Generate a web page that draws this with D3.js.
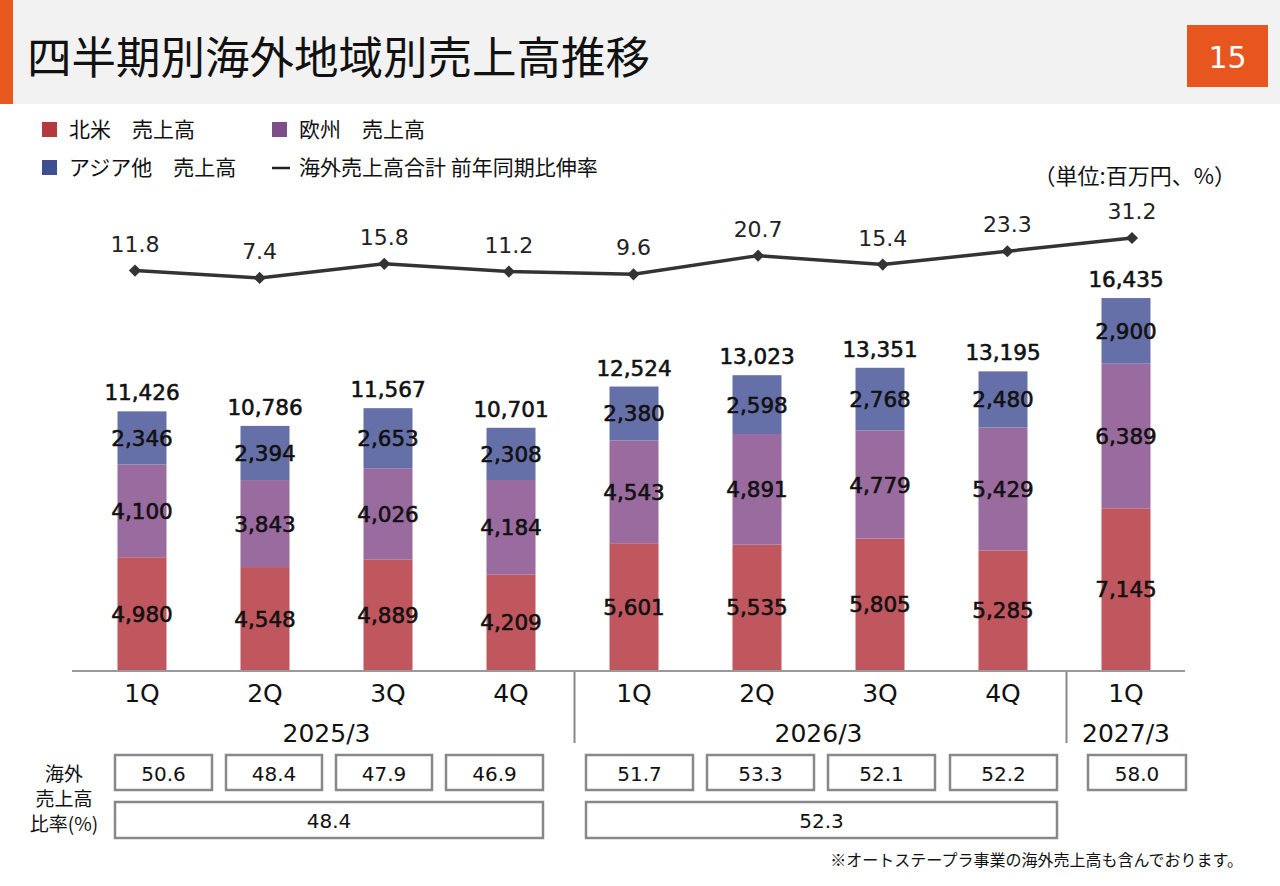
<!DOCTYPE html>
<html><head><meta charset="utf-8">
<script src="https://cdn.jsdelivr.net/npm/d3@7"></script>
<style>
html,body{margin:0;padding:0;background:#fff;}
svg{display:block;font-family:"Noto Sans CJK JP","Noto Sans",sans-serif;}
.num{font-family:"DejaVu Sans","Noto Sans",sans-serif;}
</style></head>
<body>
<svg id="c" width="1280" height="886"></svg>
<script>
const quarters = ["1Q","2Q","3Q","4Q","1Q","2Q","3Q","4Q","1Q"];
const northAmerica = [4980,4548,4889,4209,5601,5535,5805,5285,7145];
const europe = [4100,3843,4026,4184,4543,4891,4779,5429,6389];
const asiaOther = [2346,2394,2653,2308,2380,2598,2768,2480,2900];
const totals = [11426,10786,11567,10701,12524,13023,13351,13195,16435];
const growth = [11.8,7.4,15.8,11.2,9.6,20.7,15.4,23.3,31.2];
const ratioQ = [50.6,48.4,47.9,46.9,51.7,53.3,52.1,52.2,58.0];
const fiscalYears = ["2025/3","2026/3","2027/3"];
const yearGroups = [[0,3],[4,7],[8,8]];
const ratioYear = [48.4,52.3];
const seriesNames = ["北米　売上高","欧州　売上高","アジア他　売上高","海外売上高合計 前年同期比伸率"];

const svg = d3.select("#c");
// header
svg.append("rect").attr("x",0).attr("y",0).attr("width",1280).attr("height",104).attr("fill","#f2f2f2");
svg.append("rect").attr("x",0).attr("y",0).attr("width",13).attr("height",104).attr("fill","#e8581f");
svg.append("text").attr("x",27).attr("y",74).attr("font-size",44.5).attr("fill","#111").text("四半期別海外地域別売上高推移");
svg.append("rect").attr("x",1187).attr("y",25).attr("width",81).attr("height",62).attr("fill","#e6561e");
svg.append("text").attr("class","num").attr("x",1227.5).attr("y",67.5).attr("text-anchor","middle").attr("font-size",30).attr("fill","#fff").text("15");

// legend
const legCol = ["#b3383f","#7d4f88","#3f4e8e"];
const legPos = [[42,130],[272,130],[42,168]];
legPos.forEach((p,i)=>{
  svg.append("rect").attr("x",p[0]).attr("y",p[1]-8).attr("width",15).attr("height",15).attr("fill",legCol[i]);
  svg.append("text").attr("x",p[0]+27).attr("y",p[1]+7).attr("font-size",21).attr("fill","#111").text(seriesNames[i]);
});
svg.append("line").attr("x1",272).attr("x2",290).attr("y1",168).attr("y2",168).attr("stroke","#222").attr("stroke-width",2.5);
svg.append("text").attr("x",299).attr("y",175).attr("font-size",21).attr("fill","#111").text(seriesNames[3]);
svg.append("text").attr("x",1236).attr("y",184).attr("text-anchor","end").attr("font-size",22).attr("fill","#111").text("（単位:百万円、%）");

// scales
const idx = d3.range(quarters.length);
const x = d3.scalePoint().domain(idx).range([80.5,1187.5]).padding(0.5);
const xl = d3.scalePoint().domain(idx).range([135,1132]);
const baseY = 670;
const y = d3.scaleLinear().domain([0,16435]).range([baseY,298]);
const yl = d3.scaleLinear().domain([0,31.2]).range([290.4,238]);
const bw = 49;
const fmt = d3.format(",");

const stackData = idx.map(i=>({i, na:northAmerica[i], eu:europe[i], as:asiaOther[i]}));
const stack = d3.stack().keys(["na","eu","as"])(stackData);
const segCol = ["#c0575f","#9a6b9e","#6670a8"];
stack.forEach((layer,k)=>{
  const g = svg.append("g");
  g.selectAll("rect").data(layer).join("rect")
    .attr("x",d=>x(d.data.i)-bw/2).attr("width",bw)
    .attr("y",d=>y(d[1])).attr("height",d=>y(d[0])-y(d[1]))
    .attr("fill",segCol[k]);
  g.selectAll("text").data(layer).join("text").attr("class","num")
    .attr("x",d=>x(d.data.i)).attr("y",d=>(y(d[0])+y(d[1]))/2+8)
    .attr("text-anchor","middle").attr("font-size",21.5).attr("fill","#111")
    .attr("stroke","#111").attr("stroke-width",0.6)
    .text(d=>fmt(d[1]-d[0]));
});
svg.append("g").selectAll("text").data(idx).join("text").attr("class","num")
  .attr("x",i=>x(i)).attr("y",i=>y(totals[i])-11)
  .attr("text-anchor","middle").attr("font-size",21.5).attr("fill","#111")
  .attr("stroke","#111").attr("stroke-width",0.6)
  .text(i=>fmt(totals[i]));

// line
const line = d3.line().x(i=>xl(i)).y(i=>yl(growth[i]));
svg.append("path").attr("d",line(idx)).attr("fill","none").attr("stroke","#333").attr("stroke-width",3.5);
svg.append("g").selectAll("path").data(idx).join("path")
  .attr("d",d3.symbol().type(d3.symbolDiamond2).size(95))
  .attr("transform",i=>`translate(${xl(i)},${yl(growth[i])})`).attr("fill","#333");
svg.append("g").selectAll("text").data(idx).join("text").attr("class","num")
  .attr("x",i=>xl(i)).attr("y",i=>yl(growth[i])-19)
  .attr("text-anchor","middle").attr("font-size",22).attr("fill","#222")
  .text(i=>d3.format(".1f")(growth[i]));

// axis
svg.append("line").attr("x1",72).attr("x2",1185).attr("y1",baseY+1).attr("y2",baseY+1).attr("stroke","#999").attr("stroke-width",2);
svg.append("g").selectAll("text").data(idx).join("text").attr("class","num")
  .attr("x",i=>x(i)).attr("y",702).attr("text-anchor","middle").attr("font-size",25).attr("fill","#111")
  .text(i=>quarters[i]);
[3.5,7.5].forEach(v=>{
  const xv = (x(Math.floor(v))+x(Math.ceil(v)))/2 + 2;
  svg.append("line").attr("x1",xv).attr("x2",xv).attr("y1",baseY+2).attr("y2",743).attr("stroke","#888").attr("stroke-width",2);
});
fiscalYears.forEach((fy,k)=>{
  const cx = (x(yearGroups[k][0])+x(yearGroups[k][1]))/2;
  svg.append("text").attr("class","num").attr("x",cx).attr("y",742).attr("text-anchor","middle").attr("font-size",25).attr("fill","#111").text(fy);
});

// table
const boxX = [[115,212],[226,322],[336,432],[446,543],[586,693],[707,814],[828,935],[950,1057],[1088,1186]];
const tg = svg.append("g");
boxX.forEach((b,i)=>{
  tg.append("rect").attr("x",b[0]).attr("y",755).attr("width",b[1]-b[0]).attr("height",35)
    .attr("fill","#fff").attr("stroke","#888").attr("stroke-width",2.5);
  tg.append("text").attr("class","num").attr("x",(b[0]+b[1])/2).attr("y",781).attr("text-anchor","middle").attr("font-size",20).attr("fill","#111")
    .text(d3.format(".1f")(ratioQ[i]));
});
[[0,3],[4,7]].forEach((g,k)=>{
  const x0 = boxX[g[0]][0], x1 = boxX[g[1]][1];
  tg.append("rect").attr("x",x0).attr("y",802).attr("width",x1-x0).attr("height",36)
    .attr("fill","#fff").attr("stroke","#888").attr("stroke-width",2.5);
  tg.append("text").attr("class","num").attr("x",(x0+x1)/2).attr("y",828).attr("text-anchor","middle").attr("font-size",20).attr("fill","#111")
    .text(d3.format(".1f")(ratioYear[k]));
});
["海外","売上高","比率(%)"].forEach((t,k)=>{
  svg.append("text").attr("x",64).attr("y",781+k*25).attr("text-anchor","middle").attr("font-size",19).attr("fill","#111").text(t);
});
svg.append("text").attr("x",1243).attr("y",866).attr("text-anchor","end").attr("font-size",16).attr("fill","#111")
  .text("※オートステープラ事業の海外売上高も含んでおります。");
</script>
</body></html>
